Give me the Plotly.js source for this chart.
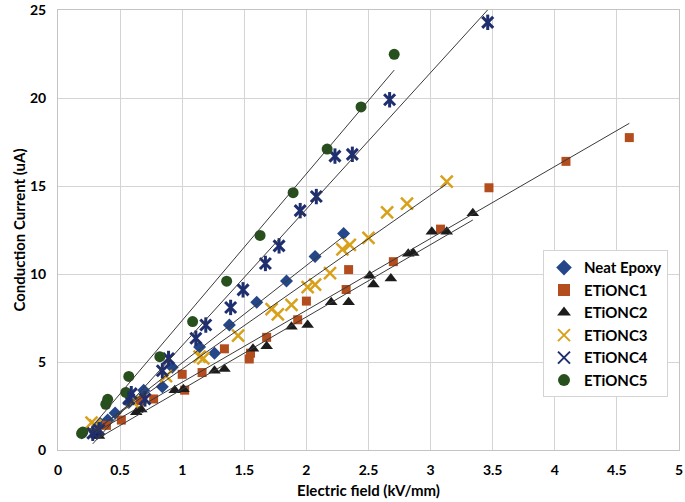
<!DOCTYPE html>
<html>
<head>
<meta charset="utf-8">
<script src="https://cdn.plot.ly/plotly-3.0.1.min.js"></script>
<style>html,body{margin:0;padding:0;background:#fff;}#chart{width:685px;height:502px;}</style>
</head>
<body>
<div id="chart"></div>
<script>
// ---- Data ----
const seriesNames = ["Neat Epoxy", "ETiONC1", "ETiONC2", "ETiONC3", "ETiONC4", "ETiONC5"];

const neatX = [0.30, 0.34, 0.40, 0.46, 0.57, 0.69, 0.84, 0.92, 1.14, 1.26, 1.38, 1.60, 1.84, 2.07, 2.30];
const neatY = [1.0, 1.5, 1.7, 2.1, 2.7, 3.4, 3.6, 4.7, 5.85, 5.5, 7.1, 8.4, 9.6, 11.0, 12.3];

const c1X = [0.30, 0.39, 0.51, 0.66, 0.77, 1.00, 1.02, 1.16, 1.34, 1.54, 1.55, 1.68, 1.93, 2.00, 2.32, 2.34, 2.70, 3.08, 3.47, 4.09, 4.60];
const c1Y = [0.9, 1.4, 1.7, 2.8, 2.9, 4.3, 3.4, 4.4, 5.75, 5.17, 5.5, 6.4, 7.4, 8.46, 9.12, 10.25, 10.7, 12.55, 14.9, 16.4, 17.75];

const c2X = [0.31, 0.33, 0.63, 0.67, 0.94, 1.01, 1.26, 1.34, 1.57, 1.68, 1.88, 2.01, 2.20, 2.34, 2.51, 2.54, 2.68, 2.82, 2.86, 3.01, 3.13, 3.34];
const c2Y = [0.85, 0.8, 2.15, 2.3, 3.4, 3.45, 4.5, 4.6, 5.75, 5.9, 7.0, 7.1, 8.4, 8.4, 9.9, 9.4, 9.75, 11.15, 11.2, 12.4, 12.4, 13.45];

const c3X = [0.27, 0.30, 0.60, 0.87, 1.14, 1.17, 1.45, 1.72, 1.77, 1.88, 2.01, 2.07, 2.19, 2.29, 2.35, 2.50, 2.65, 2.81, 3.13];
const c3Y = [1.55, 1.4, 2.75, 4.2, 5.3, 5.2, 6.5, 8.0, 7.7, 8.25, 9.25, 9.4, 10.05, 11.4, 11.65, 12.05, 13.5, 14.0, 15.25];

const c4X = [0.28, 0.33, 0.57, 0.59, 0.70, 0.84, 0.89, 1.11, 1.19, 1.39, 1.49, 1.67, 1.78, 1.95, 2.08, 2.23, 2.37, 2.67, 3.46];
const c4Y = [0.95, 1.15, 2.9, 3.2, 2.9, 4.5, 5.2, 6.35, 7.1, 8.1, 9.1, 10.6, 11.6, 13.6, 14.4, 16.7, 16.8, 19.9, 24.3];

const c5X = [0.19, 0.20, 0.385, 0.40, 0.546, 0.57, 0.82, 1.084, 1.358, 1.627, 1.893, 2.167, 2.44, 2.707];
const c5Y = [0.94, 1.02, 2.6, 2.88, 3.27, 4.18, 5.3, 7.30, 9.59, 12.19, 14.62, 17.10, 19.49, 22.48];

const xTicks = [0, 0.5, 1, 1.5, 2, 2.5, 3, 3.5, 4, 4.5, 5];
const yTicks = [0, 5, 10, 15, 20, 25];

// ---- Styling ----
const family = "Lato, 'Open Sans', sans-serif";
const tickFont = {family: family, size: 14, color: "#000", weight: "bold"};
const titleFont = {family: family, size: 15, color: "#000", weight: "bold"};

function fit(xs, ys) {
  const n = xs.length;
  let sx = 0, sy = 0, sxx = 0, sxy = 0;
  for (let i = 0; i < n; i++) { sx += xs[i]; sy += ys[i]; sxx += xs[i]*xs[i]; sxy += xs[i]*ys[i]; }
  const m = (n*sxy - sx*sy) / (n*sxx - sx*sx);
  const b = (sy - m*sx) / n;
  const x0 = Math.min(...xs), x1 = Math.max(...xs);
  return {x: [x0, x1], y: [m*x0 + b, m*x1 + b]};
}

const series = [
  {x: neatX, y: neatY, name: seriesNames[0], marker: {symbol: "diamond", size: 10, color: "#24478a"}},
  {x: c1X, y: c1Y, name: seriesNames[1], marker: {symbol: "square", size: 9, color: "#b44d1e"}},
  {x: c2X, y: c2Y, name: seriesNames[2], marker: {symbol: "triangle-up", size: 11, color: "#1c1c1c"}},
  {x: c3X, y: c3Y, name: seriesNames[3], marker: {symbol: "x-thin-open", size: 12, color: "#d9a01a", line: {width: 2.5, color: "#d9a01a"}}},
  {x: c4X, y: c4Y, name: seriesNames[4], marker: {symbol: "x-thin-open", size: 11, color: "#1f2e6e", line: {width: 3, color: "#1f2e6e"}}},
  {x: c5X, y: c5Y, name: seriesNames[5], marker: {symbol: "circle", size: 11, color: "#27501c"}}
];

const traces = [];
series.forEach(s => {
  traces.push({type: "scatter", mode: "markers", x: s.x, y: s.y, name: s.name, marker: s.marker, legendgroup: s.name});
});
// vertical stroke of the star marker for ETiONC4
traces.push({type: "scatter", mode: "markers", x: c4X, y: c4Y, showlegend: false, legendgroup: seriesNames[4], hoverinfo: "skip",
  marker: {symbol: "line-ns-open", size: 11, color: "#1f2e6e", line: {width: 3, color: "#1f2e6e"}}});
// linear trendlines
series.forEach(s => {
  const f = fit(s.x, s.y);
  traces.push({type: "scatter", mode: "lines", x: f.x, y: f.y, showlegend: false, hoverinfo: "skip",
    line: {color: "#3a3a3a", width: 1}});
});

const layout = {
  width: 685, height: 502,
  margin: {l: 58, r: 6, t: 10, b: 52},
  paper_bgcolor: "#fff", plot_bgcolor: "#fff",
  font: {family: family, size: 13, color: "#000"},
  showlegend: true,
  xaxis: {
    range: [0, 5.0001], tickvals: xTicks, ticktext: xTicks.map(String),
    showgrid: true, gridcolor: "#d4d4d4", gridwidth: 1,
    showline: true, linecolor: "#c4c4c4", linewidth: 1, mirror: true,
    zeroline: false, ticks: "", tickfont: tickFont, ticklabelstandoff: 7, ticklabeloverflow: "allow",
    title: {text: "Electric field (kV/mm)", font: titleFont, standoff: 8}
  },
  yaxis: {
    range: [0, 25.0001], tickvals: yTicks, ticktext: yTicks.map(String),
    showgrid: true, gridcolor: "#d4d4d4", gridwidth: 1,
    showline: true, linecolor: "#c4c4c4", linewidth: 1, mirror: true,
    zeroline: false, ticks: "", tickfont: tickFont, ticklabelstandoff: 8, ticklabeloverflow: "allow",
    title: {text: "Conduction Current (uA)", font: titleFont, standoff: 0}
  },
  legend: {
    x: 0.781, y: 0.4537, xanchor: "left", yanchor: "top",
    bgcolor: "#fff", bordercolor: "#d4d4d4", borderwidth: 1,
    font: {family: family, size: 15, color: "#000", weight: "bold"},
    tracegroupgap: 0, itemsizing: "constant"
  }
};

Plotly.newPlot("chart", traces, layout, {displayModeBar: false, staticPlot: true});
</script>
</body>
</html>
